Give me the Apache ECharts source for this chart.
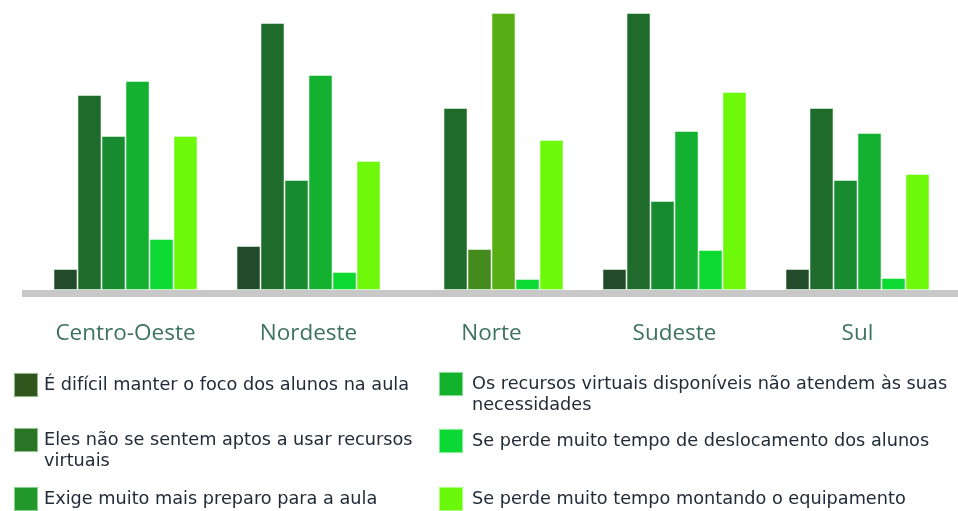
<!DOCTYPE html>
<html>
<head>
<meta charset="utf-8">
<style>
  html, body { margin: 0; padding: 0; background: #ffffff; }
  #chart { width: 958px; height: 511px; }
</style>
<script src="https://cdn.jsdelivr.net/npm/echarts@6/dist/echarts.min.js"></script>
</head>
<body>
<div id="chart"></div>
<script>
// regiões
const regioes = ['Centro-Oeste', 'Nordeste', 'Norte', 'Sudeste', 'Sul']

// motivos (legenda)
const motivos = [
  'É difícil manter o foco dos alunos na aula',
  'Eles não se sentem aptos a usar recursos\nvirtuais',
  'Exige muito mais preparo para a aula',
  'Os recursos virtuais disponíveis não atendem às suas\nnecessidades',
  'Se perde muito tempo de deslocamento dos alunos',
  'Se perde muito tempo montando o equipamento'
]

// valores estimados (%) por motivo, na ordem das regiões
const focoAlunos = [2.1, 4.4, 0, 2.1, 2.1]
const naoAptos = [19.5, 26.7, 18.2, 27.7, 18.2]
const maisPreparo = [15.4, 11.0, 4.1, 8.9, 11.0]
const recursosInsuf = [20.9, 21.5, 27.7, 15.9, 15.7]
const deslocamento = [5.1, 1.8, 1.1, 4.0, 1.2]
const equipamento = [15.4, 12.9, 15.0, 19.8, 11.6]

const valores = [focoAlunos, naoAptos, maisPreparo, recursosInsuf, deslocamento, equipamento]

// cores das barras e da legenda
const coresBarras = ['#234a2a', '#1e6b2c', '#188a30', '#14b030', '#0cd932', '#6ef80a']
const coresLegenda = ['#30561e', '#2a7426', '#22982b', '#13b22c', '#0bd834', '#6bf90b']
// a região Norte usa tons diferentes em duas séries
const coresNorte = { 2: '#458a1d', 3: '#56ae14' }

const chart = echarts.init(document.getElementById('chart'), null, { renderer: 'canvas' })

const series = valores.map((vals, i) => ({
  name: motivos[i],
  type: 'bar',
  barWidth: 24,
  barGap: '0%',
  itemStyle: {
    color: coresBarras[i],
    borderColor: 'rgba(235,255,235,0.55)',
    borderWidth: 1
  },
  data: vals.map((v, j) => {
    if (v === 0) return { value: v, itemStyle: { borderWidth: 0 } }
    if (j === 2 && coresNorte[i]) {
      return { value: v, itemStyle: { color: coresNorte[i] } }
    }
    return v
  })
}))

// posição de cada item da legenda (duas colunas)
const legendPos = [
  { left: 13, top: 372, pl: 1 },
  { left: 13, top: 408.5, pl: 1 },
  { left: 13, top: 486, pl: 1 },
  { left: 438, top: 352.5, pl: 4 },
  { left: 438, top: 428, pl: 4 },
  { left: 438, top: 486, pl: 4 }
]

const legends = motivos.map((m, i) => {
  const twoLines = m.indexOf('\n') >= 0
  return {
    data: [{ name: m, itemStyle: { color: coresLegenda[i] } }],
    left: legendPos[i].left,
    top: legendPos[i].top,
    padding: 0,
    icon: 'rect',
    itemWidth: 24,
    itemHeight: 24,
    selectedMode: false,
    // linha vazia antes do texto para alinhar o ícone com a primeira linha
    formatter: (name) => (twoLines ? '\n' + name : name),
    textStyle: {
      fontFamily: 'DejaVu Sans',
      fontSize: 17.7,
      color: '#222c38',
      lineHeight: 21,
      padding: [0, 0, 0, legendPos[i].pl]
    }
  }
})

chart.setOption({
  animation: false,
  backgroundColor: '#ffffff',
  legend: legends,
  grid: [
    { left: 34, right: 9, top: 10, bottom: 221 },
    // linha de base cinza que ocupa toda a largura
    { left: 22, right: 0, top: 10, bottom: 217.5 }
  ],
  xAxis: [
    {
      type: 'category',
      gridIndex: 0,
      data: regioes,
      axisLine: { show: false },
      axisTick: { show: false },
      axisLabel: {
        margin: 32,
        fontFamily: 'Open Sans',
        fontSize: 22.5,
        color: '#3e735f'
      }
    },
    {
      type: 'category',
      gridIndex: 1,
      data: regioes,
      z: 0,
      axisLine: { show: true, lineStyle: { color: '#c8c8c8', width: 7, cap: 'butt' } },
      axisTick: { show: false },
      axisLabel: { show: false }
    }
  ],
  yAxis: [
    { type: 'value', gridIndex: 0, min: 0, max: 28, show: false },
    { type: 'value', gridIndex: 1, min: 0, max: 28, show: false }
  ],
  series
})
</script>
</body>
</html>
